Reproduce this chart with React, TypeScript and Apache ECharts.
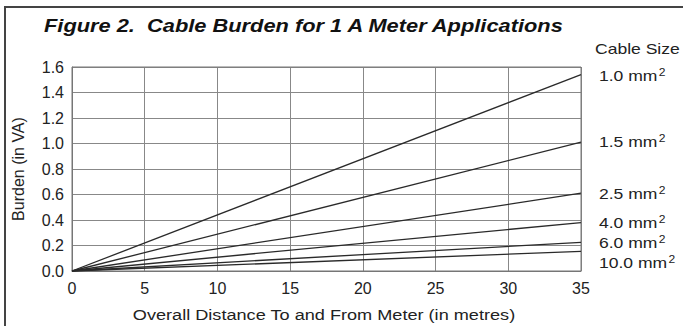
import React, { useEffect, useRef } from "react";
import * as echarts from "echarts";

const TITLE = "Figure 2.  Cable Burden for 1 A Meter Applications";
const X_NAME = "Overall Distance To and From Meter (in metres)";
const Y_NAME = "Burden (in VA)";
const LEGEND_TITLE = "Cable Size";

const distances = [0, 35];
const cableSizes = ["1.0", "1.5", "2.5", "4.0", "6.0", "10.0"];
const burdenAt35 = [1.54, 1.01, 0.61, 0.38, 0.225, 0.154];
const labelY = [75, 141, 193, 222, 242, 262];

const FONT = "'Liberation Sans', Arial, Helvetica, sans-serif";
const STRETCH = 1.21;

export default function App() {
  const ref = useRef<HTMLDivElement>(null);
  useEffect(() => {
    const chart = echarts.init(ref.current!, null, { renderer: "svg" });
    const series = cableSizes.map((size, i) => ({
      type: "line",
      name: size + " mm2",
      data: distances.map((d, j) => [d, j === 0 ? 0 : burdenAt35[i]]),
      showSymbol: false,
      symbol: "none",
      lineStyle: { color: "#2a2a2a", width: 1.3 },
      z: 5,
    }));
    const cableLabels = cableSizes.map((size, i) => ({
      type: "text",
      x: 599,
      y: labelY[i],
      scaleX: STRETCH,
      style: {
        text: `{a|${size} mm}{s|2}`,
        verticalAlign: "middle",
        rich: {
          a: { fontFamily: FONT, fontSize: 14.5, fill: "#222", color: "#222", verticalAlign: "bottom", lineHeight: 16 },
          s: { fontFamily: FONT, fontSize: 10, fill: "#222", color: "#222", verticalAlign: "top", padding: [0, 0, 8, 1], lineHeight: 16 },
        },
      },
    }));
    chart.setOption({
      animation: false,
      backgroundColor: "#ffffff",
      grid: { left: 72, right: 102, top: 67, bottom: 55, containLabel: false },
      xAxis: {
        type: "value",
        min: 0,
        max: 35,
        interval: 5,
        axisLine: { show: true, lineStyle: { color: "#777", width: 1 } },
        axisTick: { show: false },
        axisLabel: { fontFamily: FONT, fontSize: 16, color: "#222", margin: 9 },
        splitLine: { show: true, lineStyle: { color: "#888", width: 1 } },
      },
      yAxis: {
        type: "value",
        min: 0,
        max: 1.6,
        interval: 0.2,
        name: Y_NAME,
        nameLocation: "middle",
        nameGap: 46,
        nameRotate: 90,
        nameTextStyle: { fontFamily: FONT, fontSize: 16, color: "#222" },
        axisLine: { show: true, lineStyle: { color: "#777", width: 1 } },
        axisTick: { show: false },
        axisLabel: {
          fontFamily: FONT,
          fontSize: 16,
          color: "#222",
          margin: 8,
          formatter: (v: number) => v.toFixed(1),
        },
        splitLine: { show: true, lineStyle: { color: "#888", width: 1 } },
      },
      graphic: [
        {
          type: "rect",
          shape: { x: 5, y: 7, width: 720, height: 400 },
          style: { fill: "none", stroke: "#444", lineWidth: 2 },
          silent: true,
        },
        {
          type: "text",
          x: 44,
          y: 26,
          scaleX: 1.18,
          style: {
            text: TITLE,
            fontFamily: FONT,
            fontSize: 18.5,
            fontWeight: "bold",
            fontStyle: "italic",
            fill: "#111",
            verticalAlign: "middle",
          },
        },
        {
          type: "text",
          x: 595,
          y: 49,
          scaleX: STRETCH,
          style: {
            text: LEGEND_TITLE,
            fontFamily: FONT,
            fontSize: 14.5,
            fill: "#222",
            verticalAlign: "middle",
          },
        },
        {
          type: "text",
          x: 324,
          y: 315,
          scaleX: STRETCH,
          style: {
            text: X_NAME,
            fontFamily: FONT,
            fontSize: 15,
            fill: "#222",
            align: "center",
            verticalAlign: "middle",
          },
        },
        ...cableLabels,
        {
          type: "rect",
          shape: { x: 72, y: 67, width: 509, height: 204 },
          style: { fill: "none", stroke: "#777", lineWidth: 1 },
          silent: true,
          z: 1,
        },
      ],
      series,
    });
    return () => chart.dispose();
  }, []);
  return (
    <div
      ref={ref}
      style={{ position: "fixed", left: 0, top: 0, width: 683, height: 326 }}
    />
  );
}
